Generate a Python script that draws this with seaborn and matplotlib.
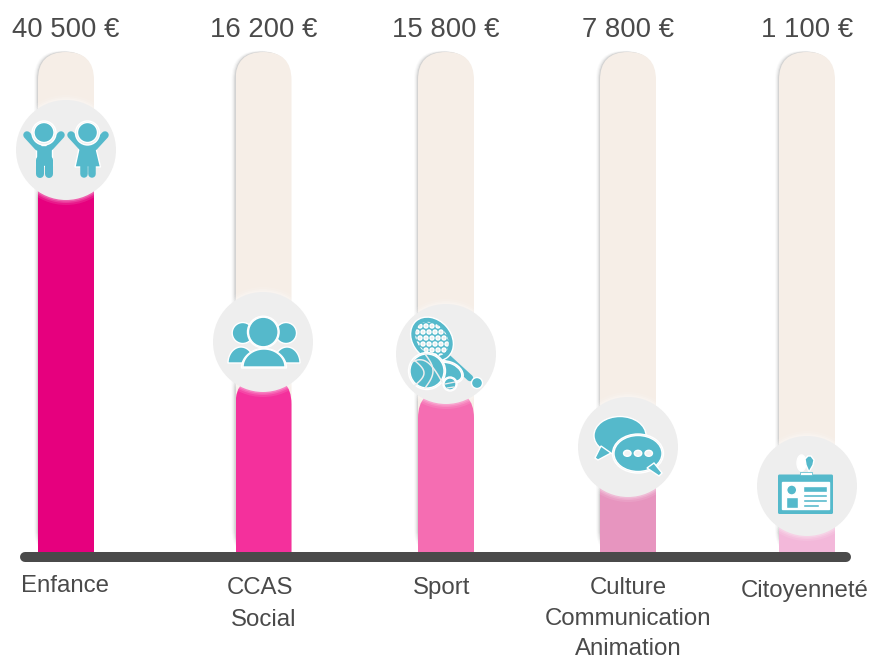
import numpy as np
import pandas as pd
import matplotlib
matplotlib.use("Agg")
import matplotlib.pyplot as plt
import seaborn as sns
from matplotlib.patches import Circle, Ellipse, FancyBboxPatch, Polygon, Rectangle

# === Data ===
categories = ["Enfance", "CCAS Social", "Sport", "Culture Communication Animation", "Citoyenneté"]
amounts = [40500, 16200, 15800, 7800, 1100]
# fill level of each gauge (the gauges are not drawn to scale)
fill_levels = [397, 181, 167, 110, 71]
track_levels = [505, 505, 505, 505, 505]
bar_colors = ["#E6007E", "#F4309C", "#F56DB2", "#E795BF", "#F3B8DA"]

# === Layout (pixels of the 872x660 picture) ===
CENTERS = [66, 263.5, 446, 628, 807]
BAR_W = 56
BASE_Y = 557
TOP_R = 28
TRACK = "#F6EEE7"
DISC = "#EEEEEE"
TEAL = "#55B9CB"
INK = "#4A4A4A"
LABELS = [
    ("Enfance", 65, 586), ("CCAS", 260, 588), ("Social", 264, 620), ("Sport", 442, 588),
    ("Culture", 628, 588), ("Communication", 628, 619), ("Animation", 628, 649),
    ("Citoyenneté", 805, 591),
]


def px(n):
    return n * 0.72


def half_ellipse(cx, base_y, rx, ry, **kw):
    t = np.linspace(np.pi, 2 * np.pi, 40)
    return Polygon(np.c_[cx + rx * np.cos(t), base_y + ry * np.sin(t)], closed=True, **kw)


def stick(ov, x, y, w, color=TEAL, z=6):
    ov.plot(x, y, color=color, lw=px(w), solid_capstyle="round", zorder=z)


def kids_icon(ov):
    # boy
    ov.add_patch(Polygon([(36, 145), (52, 145), (52, 166), (36, 166)], fc=TEAL, zorder=6))
    stick(ov, [27, 38], [135, 147], 7.5)
    stick(ov, [61, 50], [135, 147], 7.5)
    stick(ov, [40, 40], [160, 174], 8)
    stick(ov, [48.5, 48.5], [160, 174], 8)
    # girl
    ov.add_patch(Polygon([(80, 144), (95, 144), (100.5, 167), (75, 167)], fc=TEAL, zorder=6))
    stick(ov, [71, 82], [135, 147], 7.5)
    stick(ov, [105, 94], [135, 147], 7.5)
    stick(ov, [83.5, 83.5], [166, 174], 7.5)
    stick(ov, [92, 92], [166, 174], 7.5)
    for hx in (44, 87.5):
        ov.add_patch(Circle((hx, 133), 12, fc=DISC, zorder=6.5))
        ov.add_patch(Circle((hx, 132.5), 10, fc=TEAL, zorder=7))


def people_icon(ov):
    for hx, sx in ((242.7, 241), (286, 287)):
        ov.add_patch(Circle((hx, 333), 10.5, fc=TEAL, zorder=6))
        ov.add_patch(half_ellipse(sx, 363, 13, 16, fc=TEAL, zorder=6))
    ov.add_patch(half_ellipse(264, 368, 22.5, 19.5, fc=DISC, zorder=6.5))
    ov.add_patch(Circle((263.3, 332), 15.8, fc=DISC, zorder=6.5))
    ov.add_patch(half_ellipse(264, 367, 21, 18, fc=TEAL, zorder=7))
    ov.add_patch(Circle((263.3, 332), 14.8, fc=TEAL, zorder=7))


def sports_icon(ov):
    stick(ov, [446, 470], [356, 378], 6.5)
    ov.add_patch(Circle((477, 383), 5.5, fc=TEAL, zorder=6))
    ov.add_patch(Ellipse((432, 339), 48, 38, angle=48, fc=TEAL, zorder=6))
    clip = Ellipse((432, 339), 38, 29, angle=48, transform=ov.transData)
    for i in np.arange(414, 452, 6):
        for j in np.arange(320, 360, 6):
            dot = Circle((i + (j % 12 > 5) * 3, j), 2, fc=DISC, zorder=6.5)
            ov.add_patch(dot)
            dot.set_clip_path(clip)
    # balls
    ov.add_patch(Ellipse((449, 372), 30, 20, angle=25, fc=DISC, zorder=6.5))
    ov.add_patch(Ellipse((449, 372), 27, 17, angle=25, fc=TEAL, zorder=7))
    ov.add_patch(Circle((427, 371), 18.5, fc=DISC, zorder=7.5))
    ov.add_patch(Circle((427, 371), 17, fc=TEAL, zorder=8))
    t = np.linspace(0, 1, 20)
    stick(ov, 412 + 30 * t, 362 + 20 * t ** 2 - 5 * np.sin(t * np.pi), 1.5, DISC, 9)
    stick(ov, 425 + 8 * np.sin(t * np.pi), 354 + 34 * t, 1.5, DISC, 9)
    stick(ov, 414 + 10 * np.sin(t * np.pi), 360 + 26 * t, 1.5, DISC, 9)
    ov.add_patch(Circle((450, 384), 7, fc=DISC, zorder=8.5))
    ov.add_patch(Circle((450, 384), 6, fc=TEAL, zorder=9))
    stick(ov, [445, 455], [384, 382], 1.3, DISC, 9.5)
    stick(ov, [447, 454], [388, 387], 1.3, DISC, 9.5)


def chat_icon(ov):
    ov.add_patch(Ellipse((620, 435.5), 52, 38, fc=TEAL, zorder=6))
    ov.add_patch(Polygon([(601, 446), (611, 453), (598, 460), (595, 458)], fc=TEAL, zorder=6))
    ov.add_patch(Ellipse((638, 453.5), 51, 39, fc=DISC, zorder=6.5))
    ov.add_patch(Ellipse((638, 453.5), 48, 36, fc=TEAL, zorder=7))
    ov.add_patch(Polygon([(647, 468), (654, 463), (662, 473), (659, 476)], fc=TEAL, zorder=7))
    for dx in (627.3, 638, 648.7):
        ov.add_patch(Ellipse((dx, 453.3), 7.5, 6, fc="#F4F4F4", zorder=8))


def badge_icon(ov):
    ov.add_patch(Ellipse((801.5, 463), 9, 16, fc="white", zorder=6))
    ov.add_patch(Polygon([(805, 459), (808, 456), (811, 456), (814, 460), (813, 465), (809, 472), (806, 465)],
                         fc=TEAL, zorder=6.5))
    ov.add_patch(FancyBboxPatch((778, 474.5), 55, 39.5, boxstyle="round,pad=0,rounding_size=1.5", fc=TEAL, ec="none", zorder=6))
    ov.add_patch(Rectangle((800, 472), 12, 3, fc="white", ec=TEAL, lw=0.5, zorder=6.6))
    ov.add_patch(Rectangle((782.3, 481.7), 47, 27.3, fc="white", zorder=7))
    ov.add_patch(Circle((791.7, 490), 5, fc=TEAL, zorder=8))
    ov.add_patch(Rectangle((785.7, 497.3), 12.6, 10.7, fc=TEAL, zorder=8))
    ov.add_patch(Rectangle((802.7, 485.7), 24.6, 6, fc=TEAL, zorder=8))
    ov.add_patch(Rectangle((802.7, 493.7), 24.6, 3, fc=TEAL, zorder=8))
    ov.add_patch(Rectangle((802.7, 499.3), 24.6, 2.7, fc=TEAL, zorder=8))
    ov.add_patch(Rectangle((802.7, 504), 16.6, 2.7, fc=TEAL, zorder=8))


# ===========================
# Main figure
# ===========================
sns.set_theme(style="white")
plt.rcParams["font.family"] = ["Liberation Sans", "DejaVu Sans"]

df = pd.DataFrame({"center": CENTERS, "category": categories, "fill": fill_levels, "track": track_levels})

fig = plt.figure(figsize=(8.72, 6.6), dpi=100)
ax = fig.add_axes([0, 0, 1, 1])
ax.set_axis_off()

bar_width = BAR_W / min(np.diff(CENTERS))
sns.barplot(data=df, x="center", y="track", native_scale=True, color=TRACK, width=bar_width, gap=0,
            saturation=1, errorbar=None, ax=ax)
n_tracks = len(ax.patches)
sns.barplot(data=df, x="center", y="fill", hue="category", palette=bar_colors, native_scale=True, width=bar_width,
            gap=0, saturation=1, errorbar=None, legend=False, dodge=False, ax=ax)
ax.set_xlim(0, 872)
ax.set_ylim(BASE_Y - 660, BASE_Y)
ax.set_axis_off()

# rounded tops, done by clipping the bars
bars = sorted(ax.patches[:n_tracks], key=lambda b: b.get_x()) + sorted(ax.patches[n_tracks:], key=lambda b: b.get_x())
for i, bar in enumerate(bars):
    x0, w, h = bar.get_x(), bar.get_width(), bar.get_height()
    clip = FancyBboxPatch((x0, -60), w, h + 60, boxstyle=f"round,pad=0,rounding_size={TOP_R}", transform=ax.transData)
    bar.set_edgecolor("none")
    bar.set_linewidth(0)
    bar.set_clip_path(clip)
    bar.set_zorder(2 if i < n_tracks else 3)
    # soft shadow on the left of the tracks
    if i < n_tracks:
        for off, a in ((1, 0.16), (2, 0.10), (3, 0.06), (4, 0.03)):
            ax.add_patch(FancyBboxPatch((x0 - off, 0), w, h + off * 0.3, boxstyle=f"round,pad=0,rounding_size={TOP_R}",
                                        fc="#777777", ec="none", alpha=a, zorder=1))

ax.plot([25, 846], [0, 0], color=INK, lw=px(10), solid_capstyle="round", zorder=4)

for cx, amount in zip(CENTERS, amounts):
    label = f"{amount:,}".replace(",", " ") + " €"
    ax.text(cx, BASE_Y - 30, label, ha="center", va="center", fontsize=19.8, color=INK)

# overlay in picture pixels for the discs, icons and names
ov = fig.add_axes([0, 0, 1, 1], zorder=5)
ov.set_xlim(0, 872)
ov.set_ylim(660, 0)
ov.patch.set_alpha(0)
ov.set_axis_off()

disc_centers = [(66, 150), (263, 342), (446, 354), (628, 447), (807, 486)]
for dc in disc_centers:
    for r, a in ((55, 0.10), (53, 0.14), (51.5, 0.2)):
        ov.add_patch(Circle(dc, r, fc="white", ec="none", alpha=a, zorder=4))
    ov.add_patch(Circle(dc, 50, fc=DISC, ec="none", zorder=5))

kids_icon(ov)
people_icon(ov)
sports_icon(ov)
chat_icon(ov)
badge_icon(ov)

for text, x, y in LABELS:
    ov.text(x, y, text, ha="center", va="center", fontsize=17.3, color=INK)

fig.savefig("out.png", dpi=100)
